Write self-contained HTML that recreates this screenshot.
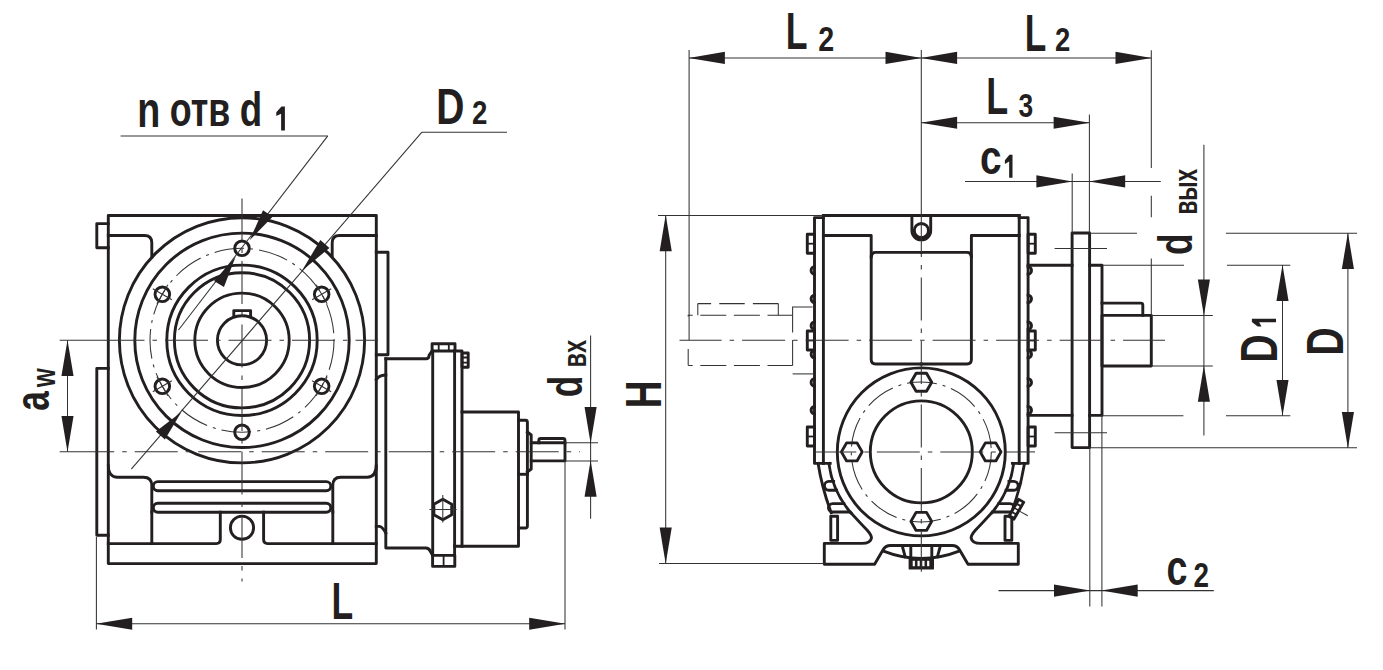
<!DOCTYPE html>
<html><head><meta charset="utf-8"><style>
html,body{margin:0;padding:0;background:#fff;overflow:hidden;}
svg{display:block;}
.k{fill:none;stroke:#231f20;stroke-width:2.9;stroke-linejoin:round;stroke-linecap:square;}
.k2{fill:none;stroke:#231f20;stroke-width:1.8;}
.wf{fill:#fff;stroke:none;}
.kf{fill:#231f20;stroke:#231f20;stroke-width:2.4;stroke-linejoin:round;}
.t{fill:none;stroke:#333;stroke-width:1.05;}
.cc{fill:none;stroke:#333;stroke-width:1.05;stroke-dasharray:43 8 4.5 8;}
.cb{fill:none;stroke:#333;stroke-width:1.05;stroke-dasharray:30 6 3 6;}
.hd{fill:none;stroke:#333;stroke-width:1.05;stroke-dasharray:26 7.6;}
.a{fill:#231f20;stroke:none;}
text{font-family:"Liberation Sans",sans-serif;font-weight:bold;font-size:50px;fill:#231f20;}
</style></head><body>
<svg width="1383" height="670" viewBox="0 0 1383 670">
<path class="k" d="M108.3,215.5 H376.3 V563.6 H108.3 Z"/>
<path class="k" d="M108.3,543.6 H151.8"/>
<path class="k" d="M151.8,543.6 H216.3 Q220.3,543.6 220.3,539.6 V512.2"/>
<path class="k" d="M263.6,512.2 V539.6 Q263.6,543.6 267.6,543.6 H332.8"/>
<path class="k" d="M332.8,543.6 H376.3"/>
<path class="k" d="M151.8,543.6 V512"/>
<path class="k" d="M332.8,543.6 V512"/>
<path class="k" d="M108.3,223.6 H96.8 V247.8 H108.3"/>
<path class="k" d="M108.3,368.4 H96.8 V535.2 H108.3"/>
<path class="k" d="M376.3,252.2 H388 V354.8 H376.3"/>
<path class="k" d="M108.3,235.5 H144.5 Q151.8,235.5 151.8,242.8 V257"/>
<path class="k" d="M376.3,235.5 H339.5 Q332.2,235.5 332.2,242.8 V256"/>
<path class="k" d="M108.3,466 Q108.3,477.2 117.5,477.2 H143.5 Q151.8,477.2 151.8,485.5 V512"/>
<path class="k" d="M376.3,466 Q376.3,477.2 367.1,477.2 H340.5 Q332.8,477.2 332.8,485.5 V512"/>
<rect class="k" x="153.3" y="481.6" width="177.5" height="9.1" rx="4.5"/>
<rect class="k" x="153.3" y="503.2" width="177.5" height="9" rx="4.5"/>
<circle class="k" cx="242" cy="527.7" r="11.6"/>
<circle class="k" cx="242" cy="340.3" r="122.6"/>
<circle class="k" cx="242" cy="340.3" r="107.2"/>
<circle class="k" cx="242" cy="340.3" r="75.2"/>
<circle class="k" cx="242" cy="340.3" r="67.6"/>
<circle class="k" cx="242" cy="340.3" r="47.2"/>
<circle class="k" cx="242" cy="340.3" r="24.6"/>
<circle class="cb" cx="242" cy="340.3" r="92"/>
<circle class="k" cx="242" cy="248.3" r="7.3"/>
<circle class="k" cx="321.67" cy="294.3" r="7.3"/>
<line class="t" x1="312.15" y1="299.8" x2="331.2" y2="288.8"/>
<line class="t" x1="316.17" y1="284.77" x2="327.17" y2="303.83"/>
<circle class="k" cx="321.67" cy="386.3" r="7.3"/>
<line class="t" x1="312.15" y1="380.8" x2="331.2" y2="391.8"/>
<line class="t" x1="327.17" y1="376.77" x2="316.17" y2="395.83"/>
<circle class="k" cx="242" cy="432.3" r="7.3"/>
<circle class="k" cx="162.33" cy="294.3" r="7.3"/>
<line class="t" x1="171.85" y1="299.8" x2="152.8" y2="288.8"/>
<line class="t" x1="156.83" y1="303.83" x2="167.83" y2="284.77"/>
<circle class="k" cx="162.33" cy="386.3" r="7.3"/>
<line class="t" x1="171.85" y1="380.8" x2="152.8" y2="391.8"/>
<line class="t" x1="167.83" y1="395.83" x2="156.83" y2="376.77"/>
<path class="k" d="M233.8,316.4 V310.6 H250.6 V316.4"/>
<path class="k" d="M376.3,379.6 L378.5,377.2 Q381,375 385.8,375"/>
<path class="k" d="M385.8,358.8 V548 H425.8 Q429.4,548 430.4,551.6 L432.7,555.4"/>
<path class="k" d="M385.8,358.8 H426.2 Q428.9,358.8 429.1,355.4 L432,351"/>
<path class="k" d="M376.3,526.4 H379.6 Q382.6,527 385.8,533"/>
<path class="k" d="M432.7,351 V555.4"/>
<path class="k" d="M454.6,351 V555.4"/>
<rect class="k" x="432.1" y="343.7" width="22.9" height="7.3"/>
<path class="k2" d="M438.7,344 V350.5"/>
<path class="k2" d="M448.8,344 V350.5"/>
<rect class="k" x="432.6" y="555.4" width="22.2" height="11"/>
<path class="k2" d="M443.6,555.8 V566"/>
<path class="k" d="M454.6,351 H462 V546.2"/>
<rect class="k" x="462" y="353" width="6.2" height="14.2"/>
<path class="k2" d="M462.8,357.5 H467.4 M462.8,362.6 H467.4"/>
<polygon class="k" points="442.8,519.8 433.88,514.65 433.88,504.35 442.8,499.2 451.72,504.35 451.72,514.65"/>
<line class="t" x1="442.8" y1="495" x2="442.8" y2="522.5"/>
<line class="t" x1="429.5" y1="509.5" x2="456.6" y2="509.5"/>
<path class="k" d="M462,412 H518.5 V546.2 H454.6"/>
<path class="k" d="M518.5,420.3 H525.4 Q527.4,420.3 527.4,422.3 V526 Q527.4,528 525.4,528 H518.5"/>
<path class="k" d="M527.4,432 L531.2,435 V469 L527.4,472"/>
<path class="k" d="M518.5,474.3 H527.4"/>
<path class="k" d="M531.3,442.8 H565 V460.9 H531.3"/>
<path class="k" d="M538.8,442.8 V440.4 Q538.8,438.5 540.8,438.5 H563 Q565,438.5 565,440.5 V442.8"/>
<line class="cc" style="stroke-dashoffset:1" x1="242" y1="198.5" x2="242" y2="581.5"/>
<line class="cc" style="stroke-dashoffset:6.8" x1="108.3" y1="340.3" x2="378" y2="340.3"/>
<line class="cc" style="stroke-dashoffset:37.1" x1="108.3" y1="451.7" x2="580" y2="451.7"/>
<line class="t" x1="59.7" y1="340.3" x2="108.3" y2="340.3"/>
<line class="t" x1="59.7" y1="451.7" x2="108.3" y2="451.7"/>
<line class="t" x1="67.5" y1="340.3" x2="67.5" y2="451.7"/>
<polygon class="a" points="67.5,339.9 73.55,376.1 61.45,376.1"/>
<polygon class="a" points="67.5,452.1 61.45,415.9 73.55,415.9"/>
<text transform="translate(49.02,410.72) rotate(-90) scale(0.7041,0.9635)">a</text>
<text transform="translate(54.9,387.23) rotate(-90) scale(0.4904,0.6780)">w</text>
<line class="t" x1="565" y1="442.8" x2="598" y2="442.8"/>
<line class="t" x1="565" y1="460.9" x2="598" y2="460.9"/>
<line class="t" x1="590.6" y1="335.4" x2="590.6" y2="518.8"/>
<polygon class="a" points="590.6,443.2 584.55,407 596.65,407"/>
<polygon class="a" points="590.6,460.5 596.65,496.7 584.55,496.7"/>
<text transform="translate(581.61,397.35) rotate(-90) scale(0.7063,0.9741)">d</text>
<text transform="translate(586.4,367.45) rotate(-90) scale(0.4703,0.6553)">вх</text>
<line class="t" x1="96.4" y1="537" x2="96.4" y2="629.5"/>
<line class="t" x1="565" y1="461" x2="565" y2="629.5"/>
<line class="t" x1="96.4" y1="623.8" x2="565" y2="623.8"/>
<polygon class="a" points="96,623.8 132.2,617.75 132.2,629.85"/>
<polygon class="a" points="565.4,623.8 529.2,629.85 529.2,617.75"/>
<text transform="translate(331.42,618.7) scale(0.7096,1.0203)">L</text>
<line class="t" x1="120.6" y1="135.9" x2="327.8" y2="135.9"/>
<line class="t" x1="327.8" y1="135.9" x2="178.5" y2="330"/>
<polygon class="a" points="249.6,240.3 263,210.24 272.6,216.76"/>
<polygon class="a" points="235.5,257.1 223.94,287.03 214.06,280.97"/>
<text transform="translate(137.31,126.5) scale(0.7536,0.9907)">n</text>
<text transform="translate(169.8,126.42) scale(0.7167,0.9672)">отв</text>
<text transform="translate(239.7,126.41) scale(0.7341,0.9741)">d</text>
<polygon class="a" points="284.9,106.5 284.9,130.5 281.12,130.5 281.12,113.7 276.3,116.1 276.3,112.26 281.46,106.5"/>
<line class="t" x1="421.9" y1="132.2" x2="507" y2="132.2"/>
<line class="t" x1="421.9" y1="132.2" x2="131.3" y2="469.2"/>
<polygon class="a" points="301.9,270.7 320.35,240.08 329.45,247.92"/>
<polygon class="a" points="181.4,411.9 164.89,439.58 155.91,431.62"/>
<text transform="translate(436.19,123.9) scale(0.7798,1.0145)">D</text>
<text transform="translate(472.03,123.9) scale(0.5530,0.6791)">2</text>
<path class="k" d="M823.4,215.5 V463.4"/>
<path class="k" d="M823.4,217.6 H814.5 V463.4 H830.2"/>
<path class="k" d="M823.4,235.5 H871.2 V359.6 Q871.2,364 875.6,364 H921.3"/>
<path class="k" d="M871.2,256.8 Q871.2,252.4 875.6,252.4 H921.3"/>
<path class="k" d="M818.1,463.4 Q822,488 831.2,512.7"/>
<path class="k" d="M828.9,463.4 A93,93 0 0 0 850.8,512.7"/>
<path class="k" d="M833.6,481.4 H828.8 A4.4,4.4 0 0 0 828.8,490.2 H836.5"/>
<path class="k" d="M843.8,503.6 H832.7 A4.2,4.2 0 0 0 832.7,512 H849.8"/>
<path class="k" d="M850.8,512.7 Q862,525 867,530 Q871.5,535 871.5,538 Q870.5,543.4 862,543.4 H824.3 V564.3 H874.6 L882.8,550.2 Q885.4,545.5 890.5,545.5 H921.3"/>
<path class="k" d="M883.5,551.2 Q902,558.5 921.3,558.5"/>
<rect class="k" x="830.8" y="516.2" width="6.8" height="24.2"/>
<rect class="k" x="807.3" y="234.2" width="7.2" height="19"/>
<path class="k2" d="M807.6,243.7 H814.2"/>
<rect class="k" x="807.3" y="331" width="7.2" height="19"/>
<path class="k2" d="M807.6,340.5 H814.2"/>
<rect class="k" x="807.3" y="427" width="7.2" height="19"/>
<path class="k2" d="M807.6,436.5 H814.2"/>
<path class="k" d="M814.5,266.7 A3.4,3.7 0 0 0 814.5,274.1"/>
<path class="k" d="M814.5,295.1 A3.4,3.7 0 0 0 814.5,302.5"/>
<path class="k" d="M814.5,322 A3.4,3.7 0 0 0 814.5,329.4"/>
<path class="k" d="M814.5,350.5 A3.4,3.7 0 0 0 814.5,357.9"/>
<path class="k" d="M814.5,378.7 A3.4,3.7 0 0 0 814.5,386.1"/>
<path class="k" d="M814.5,406.5 A3.4,3.7 0 0 0 814.5,413.9"/>
<path class="k" d="M902.4,546.5 L905.2,556.8 M910.8,546.5 V558"/>
<g transform="translate(1842.6,0) scale(-1,1)">
<path class="k" d="M823.4,215.5 V463.4"/>
<path class="k" d="M823.4,217.6 H814.5 V463.4 H830.2"/>
<path class="k" d="M823.4,235.5 H871.2 V359.6 Q871.2,364 875.6,364 H921.3"/>
<path class="k" d="M871.2,256.8 Q871.2,252.4 875.6,252.4 H921.3"/>
<path class="k" d="M818.1,463.4 Q822,488 831.2,512.7"/>
<path class="k" d="M828.9,463.4 A93,93 0 0 0 850.8,512.7"/>
<path class="k" d="M833.6,481.4 H828.8 A4.4,4.4 0 0 0 828.8,490.2 H836.5"/>
<path class="k" d="M843.8,503.6 H832.7 A4.2,4.2 0 0 0 832.7,512 H849.8"/>
<path class="k" d="M850.8,512.7 Q862,525 867,530 Q871.5,535 871.5,538 Q870.5,543.4 862,543.4 H824.3 V564.3 H874.6 L882.8,550.2 Q885.4,545.5 890.5,545.5 H921.3"/>
<path class="k" d="M883.5,551.2 Q902,558.5 921.3,558.5"/>
<rect class="k" x="830.8" y="516.2" width="6.8" height="24.2"/>
<rect class="k" x="807.3" y="234.2" width="7.2" height="19"/>
<path class="k2" d="M807.6,243.7 H814.2"/>
<rect class="k" x="807.3" y="331" width="7.2" height="19"/>
<path class="k2" d="M807.6,340.5 H814.2"/>
<rect class="k" x="807.3" y="427" width="7.2" height="19"/>
<path class="k2" d="M807.6,436.5 H814.2"/>
<path class="k" d="M814.5,266.7 A3.4,3.7 0 0 0 814.5,274.1"/>
<path class="k" d="M814.5,295.1 A3.4,3.7 0 0 0 814.5,302.5"/>
<path class="k" d="M814.5,322 A3.4,3.7 0 0 0 814.5,329.4"/>
<path class="k" d="M814.5,350.5 A3.4,3.7 0 0 0 814.5,357.9"/>
<path class="k" d="M814.5,378.7 A3.4,3.7 0 0 0 814.5,386.1"/>
<path class="k" d="M814.5,406.5 A3.4,3.7 0 0 0 814.5,413.9"/>
<path class="k" d="M902.4,546.5 L905.2,556.8 M910.8,546.5 V558"/>
</g>
<path class="k" d="M911.9,215.5 V230.5 A9.4,9.4 0 0 0 930.7,230.5 V215.5"/>
<circle class="k" cx="921.4" cy="230.6" r="7.1"/>
<path class="k" d="M823.4,215.5 H1019.2"/>
<circle class="k" cx="921.3" cy="451.9" r="84"/>
<circle class="k" cx="921.3" cy="451.9" r="51"/>
<circle class="cb" cx="921.3" cy="451.9" r="70"/>
<polygon class="k" points="931.7,382.2 926.5,391.21 916.1,391.21 910.9,382.2 916.1,373.19 926.5,373.19"/>
<polygon class="k" points="862.2,451.9 857,460.91 846.6,460.91 841.4,451.9 846.6,442.89 857,442.89"/>
<polygon class="k" points="1001,451.9 995.8,460.91 985.4,460.91 980.2,451.9 985.4,442.89 995.8,442.89"/>
<polygon class="k" points="931.7,521.4 926.5,530.41 916.1,530.41 910.9,521.4 916.1,512.39 926.5,512.39"/>
<rect class="kf" x="909.8" y="558.6" width="23" height="9.8"/>
<rect class="wf" x="912.7" y="560.8" width="2.2" height="5.4"/>
<rect class="wf" x="917.5" y="560.8" width="2.2" height="5.4"/>
<rect class="wf" x="922.3" y="560.8" width="2.2" height="5.4"/>
<rect class="wf" x="927.1" y="560.8" width="2.2" height="5.4"/>
<g transform="translate(1016.3,509.3) rotate(30)"><rect class="kf" x="-3.15" y="-9.95" width="6.3" height="19.9"/><rect class="wf" x="-1.4" y="-8.6" width="2.8" height="2.6"/><rect class="wf" x="-1.4" y="-4.0" width="2.8" height="3"/><rect class="wf" x="-1.4" y="0.6" width="2.8" height="3"/><rect class="wf" x="-1.4" y="5.4" width="2.8" height="2.2"/></g>
<line class="t" x1="1019" y1="510.9" x2="1027.8" y2="515.7"/>
<path class="k" d="M1028.1,265.2 H1072.1"/>
<path class="k" d="M1028.1,415.4 H1072.1"/>
<rect class="k" x="1072.1" y="233" width="17.5" height="214.6"/>
<path class="k" d="M1089.6,265.2 H1102 V415.4 H1089.6"/>
<rect class="k" x="1102" y="315.4" width="49.3" height="50.6"/>
<path class="k" d="M1102,303.1 H1140.8 Q1142.8,303.1 1142.8,305.1 V315.4"/>
<path class="hd" style="stroke-dashoffset:21.5" d="M688.2,315.3 H792.6"/>
<path class="hd" style="stroke-dashoffset:21.5" d="M688.2,365.4 H792.6"/>
<path class="hd" style="stroke-dasharray:25.4 8.2;stroke-dashoffset:12.1" d="M697.8,303.6 H778.3"/>
<line class="t" x1="697.8" y1="303.6" x2="697.8" y2="315.3"/>
<line class="t" x1="778.3" y1="303.6" x2="778.3" y2="315.3"/>
<line class="t" x1="688.2" y1="348.9" x2="688.2" y2="365.4"/>
<line class="t" x1="688.2" y1="314.7" x2="688.2" y2="316.5"/>
<path class="t" d="M792.6,332.4 V307 H812.5"/>
<line class="t" x1="792.6" y1="340" x2="792.6" y2="365.4"/>
<line class="t" x1="792.6" y1="373.9" x2="814.5" y2="373.9"/>
<line class="cc" style="stroke-dashoffset:2" x1="921.3" y1="216" x2="921.3" y2="571.7"/>
<line class="cc" style="stroke-dashoffset:0.9" x1="679.5" y1="340.3" x2="1165" y2="340.3"/>
<line class="cc" style="stroke-dashoffset:1.2" x1="814.5" y1="451.9" x2="1035" y2="451.9"/>
<line class="t" x1="1054.6" y1="248.5" x2="1107" y2="248.5"/>
<line class="t" x1="1054.6" y1="432.8" x2="1107" y2="432.8"/>
<line class="t" x1="658" y1="215.4" x2="823.4" y2="215.4"/>
<line class="t" x1="659" y1="563.4" x2="824.3" y2="563.4"/>
<line class="t" x1="665.7" y1="215.4" x2="665.7" y2="563.4"/>
<polygon class="a" points="665.7,215 671.75,251.2 659.65,251.2"/>
<polygon class="a" points="665.7,563.8 659.65,527.6 671.75,527.6"/>
<text transform="translate(660.9,408.28) rotate(-90) scale(0.7687,1.0145)">H</text>
<line class="t" x1="689.1" y1="50" x2="689.1" y2="340"/>
<line class="t" x1="921.3" y1="50" x2="921.3" y2="216"/>
<line class="t" x1="689.1" y1="57.9" x2="1151.3" y2="57.9"/>
<polygon class="a" points="688.7,57.9 724.9,51.85 724.9,63.95"/>
<polygon class="a" points="921.7,57.9 885.5,63.95 885.5,51.85"/>
<polygon class="a" points="920.9,57.9 957.1,51.85 957.1,63.95"/>
<polygon class="a" points="1151.7,57.9 1115.5,63.95 1115.5,51.85"/>
<text transform="translate(785.81,49.3) scale(0.7135,1.0262)">L</text>
<text transform="translate(818.2,50.9) scale(0.5738,0.6848)">2</text>
<text transform="translate(1024.74,50.9) scale(0.7057,1.0233)">L</text>
<text transform="translate(1054.94,50.9) scale(0.5489,0.6819)">2</text>
<line class="t" x1="1151.3" y1="50.3" x2="1151.3" y2="167.9"/>
<line class="t" x1="1151.3" y1="195.7" x2="1151.3" y2="217.2"/>
<line class="t" x1="1151.3" y1="258.4" x2="1151.3" y2="315.4"/>
<line class="t" x1="921.3" y1="122.8" x2="1089.4" y2="122.8"/>
<polygon class="a" points="920.9,122.8 957.1,116.75 957.1,128.85"/>
<polygon class="a" points="1089.8,122.8 1053.6,128.85 1053.6,116.75"/>
<line class="t" x1="1089.4" y1="114.4" x2="1089.4" y2="233"/>
<text transform="translate(986.2,113.5) scale(0.7173,1.0349)">L</text>
<text transform="translate(1018.39,117.24) scale(0.5272,0.6573)">3</text>
<line class="t" x1="965" y1="181.4" x2="1160.8" y2="181.4"/>
<polygon class="a" points="1072.6,181.4 1036.4,187.45 1036.4,175.35"/>
<polygon class="a" points="1089,181.4 1125.2,175.35 1125.2,187.45"/>
<line class="t" x1="1072.2" y1="173.5" x2="1072.2" y2="233"/>
<text transform="translate(979.99,173.51) scale(0.7746,0.9781)">c</text>
<polygon class="a" points="1012.5,154.7 1012.5,177.7 1009.16,177.7 1009.16,161.6 1004.9,163.9 1004.9,160.22 1009.46,154.7"/>
<line class="t" x1="998.5" y1="590.6" x2="1213.8" y2="590.6"/>
<polygon class="a" points="1090.2,590.6 1054,596.65 1054,584.55"/>
<polygon class="a" points="1101.5,590.6 1137.7,584.55 1137.7,596.65"/>
<line class="t" x1="1089.8" y1="447.6" x2="1089.8" y2="606.6"/>
<line class="t" x1="1101.9" y1="415.4" x2="1101.9" y2="606.6"/>
<text transform="translate(1166.43,585.29) scale(0.7541,1.0109)">c</text>
<text transform="translate(1193.62,587) scale(0.5572,0.6848)">2</text>
<line class="t" x1="1203.9" y1="144.8" x2="1203.9" y2="435.5"/>
<polygon class="a" points="1203.9,315.8 1197.85,279.6 1209.95,279.6"/>
<polygon class="a" points="1203.9,365.6 1209.95,401.8 1197.85,401.8"/>
<line class="t" x1="1151.3" y1="315.4" x2="1212.8" y2="315.4"/>
<line class="t" x1="1151.3" y1="366" x2="1212.8" y2="366"/>
<text transform="translate(1192.31,255.04) rotate(-90) scale(0.7024,0.9741)">d</text>
<text transform="translate(1197,214.58) rotate(-90) scale(0.4520,0.6780)">вых</text>
<line class="t" x1="1089.6" y1="233.2" x2="1137" y2="233.2"/>
<line class="t" x1="1226" y1="233.2" x2="1357" y2="233.2"/>
<line class="t" x1="1089.6" y1="447.8" x2="1357" y2="447.8"/>
<line class="t" x1="1347.9" y1="233.2" x2="1347.9" y2="447.8"/>
<polygon class="a" points="1347.9,232.8 1353.95,269 1341.85,269"/>
<polygon class="a" points="1347.9,448.2 1341.85,412 1353.95,412"/>
<text transform="translate(1342.7,355.5) rotate(-90) scale(0.7765,1.0291)">D</text>
<line class="t" x1="1102" y1="265.2" x2="1184" y2="265.2"/>
<line class="t" x1="1227" y1="265.2" x2="1290.3" y2="265.2"/>
<line class="t" x1="1102" y1="415.7" x2="1183.4" y2="415.7"/>
<line class="t" x1="1226" y1="415.7" x2="1290.3" y2="415.7"/>
<line class="t" x1="1282.5" y1="265.2" x2="1282.5" y2="415.7"/>
<polygon class="a" points="1282.5,264.8 1288.55,301 1276.45,301"/>
<polygon class="a" points="1282.5,416.1 1276.45,379.9 1288.55,379.9"/>
<text transform="translate(1277,362.73) rotate(-90) scale(0.7863,1.0262)">D</text>
<polygon class="a" points="1251.9,318.8 1276,318.8 1276,322.23 1259.13,322.23 1261.54,326.6 1257.68,326.6 1251.9,321.92"/>
</svg>
</body></html>
